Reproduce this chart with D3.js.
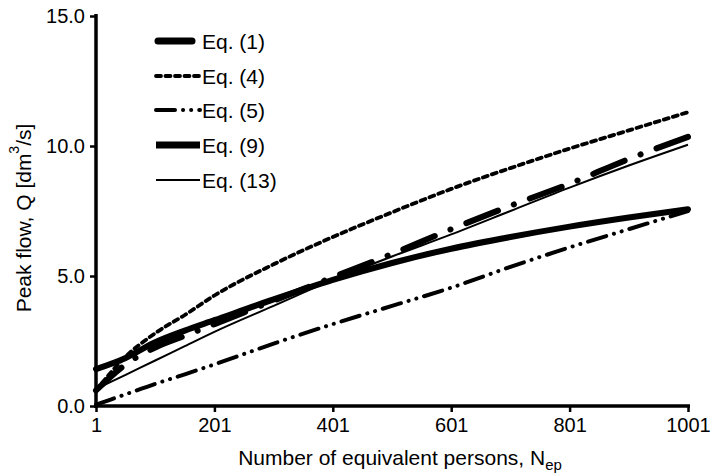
<!DOCTYPE html>
<html>
<head>
<meta charset="utf-8">
<script src="https://cdn.jsdelivr.net/npm/d3@7"></script>
<style>
body { margin: 0; background: #fff; }
svg { display: block; font-family: "Liberation Sans", Arial, sans-serif; }
</style>
</head>
<body>
<svg width="713" height="476"></svg>
<script>
// persons N_ep read at these points
const persons = [1, 51, 101, 151, 201, 301, 401, 501, 601, 701, 801, 901, 1001];

const eq1  = [0.6, 1.6, 2.25, 2.7, 3.15, 4.05, 4.95, 5.85, 6.8, 7.7, 8.55, 9.5, 10.35];
const eq4  = [0.6, 1.9, 2.8, 3.5, 4.25, 5.45, 6.5, 7.45, 8.35, 9.15, 9.9, 10.6, 11.3];
const eq5  = [0.05, 0.45, 0.85, 1.22, 1.6, 2.4, 3.15, 3.85, 4.55, 5.35, 6.1, 6.8, 7.5];
const eq9  = [1.42, 1.85, 2.45, 2.9, 3.3, 4.1, 4.85, 5.5, 6.05, 6.5, 6.9, 7.25, 7.57];
const eq13 = [0.65, 1.2, 1.75, 2.3, 2.85, 3.85, 4.85, 5.75, 6.6, 7.5, 8.4, 9.25, 10.05];

const seriesNames = ["Eq. (1)", "Eq. (4)", "Eq. (5)", "Eq. (9)", "Eq. (13)"];
const xTicks = [1, 201, 401, 601, 801, 1001];
const yTicks = [0, 5, 10, 15];

var svg = d3.select("svg");

var x = d3.scaleLinear().domain([1, 1001]).range([96, 688]);
var y = d3.scaleLinear().domain([0, 15]).range([406, 16]);

// line styles per series
var styles = [
	{w: 6, dash: "34 17 0.1 17", cap: "round"},
	{w: 3.8, dash: "5 4.5", cap: "round"},
	{w: 4, dash: "19 8 0.1 8 0.1 8", cap: "round"},
	{w: 6, dash: null, cap: "round"},
	{w: 2, dash: null, cap: "butt"}
];
var allData = [eq1, eq4, eq5, eq9, eq13];

var line = d3.line()
	.x(function(d) {return x(d[0])})
	.y(function(d) {return y(d[1])})
	.curve(d3.curveMonotoneX);

allData.forEach(function(vals, i){
	var pts = persons.map(function(p, j) {return [p, vals[j]]});
	var st = styles[i];
	svg.append("path")
		.datum(pts)
		.attr("d", line)
		.attr("fill", "none")
		.attr("stroke", "#000")
		.attr("stroke-width", st.w)
		.attr("stroke-linecap", st.cap)
		.attr("stroke-dasharray", st.dash);
});

// axes
var xAxis = svg.append("g").attr("transform", "translate(0,406)");
xAxis.call(d3.axisBottom(x).tickValues(d3.range(1, 1002, 50)).tickSize(5).tickFormat(""));
xAxis.call(d3.axisBottom(x).tickValues(xTicks).tickSize(6).tickPadding(6).tickFormat(d3.format("d")));
xAxis.selectAll(".domain").attr("stroke-width", 3.5).attr("d", "M94,0H690");
xAxis.selectAll("line").attr("stroke-width", 2.5);
xAxis.selectAll("text").attr("font-size", 20).attr("fill", "#000");

var yAxis = svg.append("g").attr("transform", "translate(96,0)");
yAxis.call(d3.axisLeft(y).tickValues(d3.range(0, 16, 1)).tickSize(5).tickFormat(""));
yAxis.call(d3.axisLeft(y).tickValues(yTicks).tickSize(6).tickPadding(5).tickFormat(d3.format(".1f")));
yAxis.selectAll(".domain").attr("stroke-width", 3.5).attr("d", "M0,14V408");
yAxis.selectAll("line").attr("stroke-width", 2.5);
yAxis.selectAll("text").attr("font-size", 20).attr("fill", "#000");

// axis titles
var xt = svg.append("text")
	.attr("x", 400).attr("y", 465)
	.attr("text-anchor", "middle")
	.attr("font-size", 21);
xt.append("tspan").text("Number of equivalent persons, N");
xt.append("tspan").attr("font-size", 15).attr("dy", 5).text("ep");

var yt = svg.append("text")
	.attr("transform", "translate(31,218) rotate(-90)")
	.attr("text-anchor", "middle")
	.attr("font-size", 21);
yt.append("tspan").text("Peak flow, Q [dm");
yt.append("tspan").attr("font-size", 14).attr("dy", -12).text("3");
yt.append("tspan").attr("dy", 12).text("/s]");

// legend
var rowY = [41, 76, 110, 145, 180];
seriesNames.forEach(function(name, i){
	var st = styles[i];
	svg.append("line")
		.attr("x1", i == 0 ? 158 : 156).attr("x2", 200)
		.attr("y1", rowY[i]).attr("y2", rowY[i])
		.attr("stroke", "#000")
		.attr("stroke-width", i == 0 || i == 3 ? 7 : st.w)
		.attr("stroke-linecap", i == 3 ? "butt" : st.cap)
		.attr("stroke-dasharray", st.dash);
	svg.append("text")
		.attr("x", 202).attr("y", rowY[i] + 8)
		.attr("font-size", 21)
		.text(name);
});
</script>
</body>
</html>
